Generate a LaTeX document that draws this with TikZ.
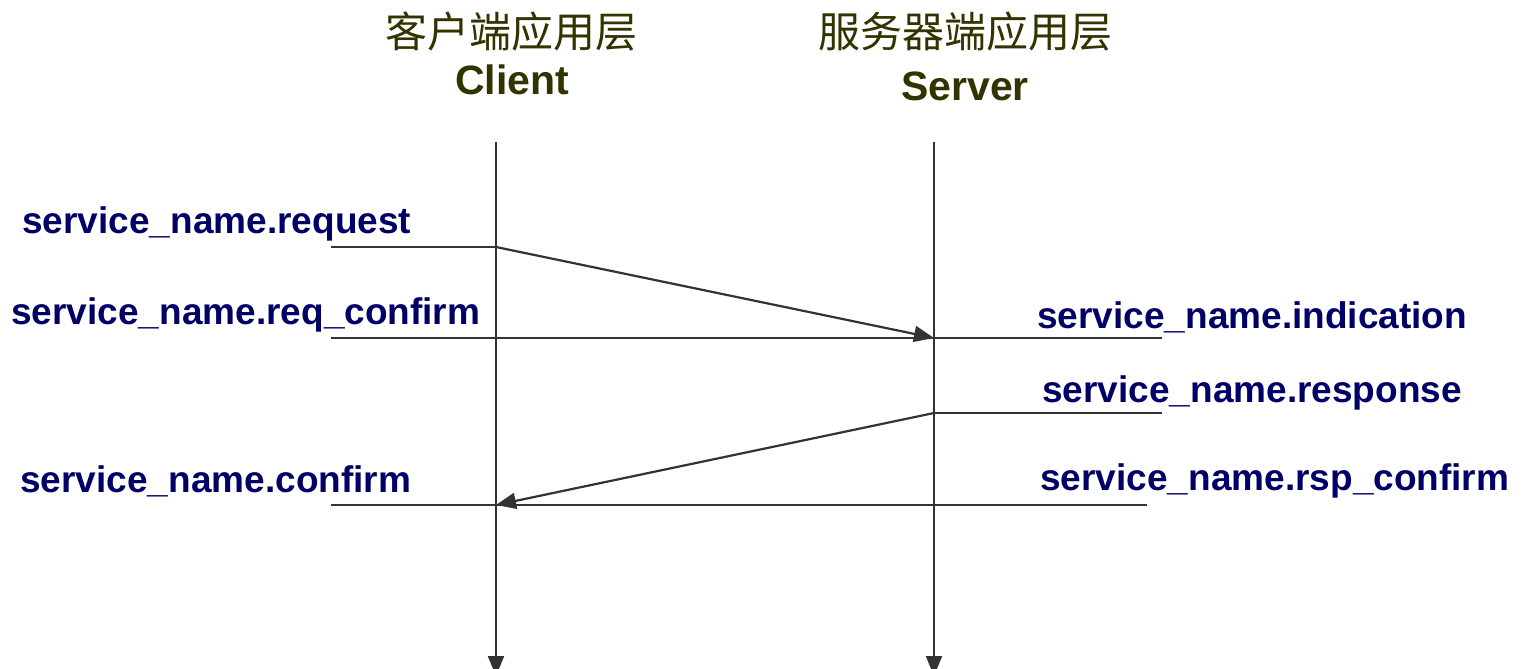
\documentclass[tikz,border=0pt]{standalone}
\usepackage{fontspec}
\setmainfont{Liberation Sans}
\newfontfamily\cjkfont{Noto Sans CJK SC}
\usetikzlibrary{arrows.meta}
\definecolor{olive}{HTML}{333300}
\definecolor{navy}{HTML}{000066}
\definecolor{ln}{HTML}{333333}
\begin{document}
\begin{tikzpicture}[x=0.5pt,y=-0.5pt,
  lbl/.style={font=\fontsize{18.5pt}{20pt}\selectfont\bfseries, text=navy, inner sep=0pt},
  hdcn/.style={font=\fontsize{21pt}{23pt}\selectfont\cjkfont, text=olive, inner sep=0pt},
  hden/.style={font=\fontsize{20.5pt}{23pt}\selectfont\bfseries, text=olive, inner sep=0pt},
  ln/.style={draw=ln, line width=1.1pt},
  arr/.style={ln, -{Triangle[length=10pt,width=8pt]}}]
\useasboundingbox (0,0) rectangle (1522,669);
% headers
\node[hdcn] (ccn) at (511,32) {客户端应用层};
\node[hden] (cen) at (512,80) {Client};
\node[hdcn] (scn) at (965,32) {服务器端应用层};
\node[hden] (sen) at (965,86) {Server};
% lifelines
\coordinate (ctop) at (496,142);
\coordinate (cbot) at (496,676);
\coordinate (stop) at (934,142);
\coordinate (sbot) at (934,676);
\draw[arr] (ctop) -- (cbot);
\draw[arr] (stop) -- (sbot);
% event points
\coordinate (reqL) at (331,247);
\coordinate (reqC) at (496,247);
\coordinate (cfL) at (331,338);
\coordinate (indS) at (934,338);
\coordinate (indR) at (1162,338);
\coordinate (rspS) at (934,413);
\coordinate (rspR) at (1162,413);
\coordinate (conL) at (331,505);
\coordinate (conC) at (496,505);
\coordinate (rcR) at (1147,505);
% lines
\draw[ln] (reqL) -- (reqC);
\draw[arr] (reqC) -- (indS);
\draw[ln] (cfL) -- (indR);
\draw[ln] (rspS) -- (rspR);
\draw[arr] (rspS) -- (conC);
\draw[ln] (conL) -- (rcR);
% labels
\node[lbl, anchor=west] (l1) at (22,224) {service\_name.request};
\node[lbl, anchor=west] (l2) at (11,315) {service\_name.req\_confirm};
\node[lbl, anchor=west] (l3) at (1037,317) {service\_name.indication};
\node[lbl, anchor=west] (l4) at (1042,393) {service\_name.response};
\node[lbl, anchor=west] (l5) at (20,481) {service\_name.confirm};
\node[lbl, anchor=west] (l6) at (1040,481) {service\_name.rsp\_confirm};
\end{tikzpicture}
\end{document}
